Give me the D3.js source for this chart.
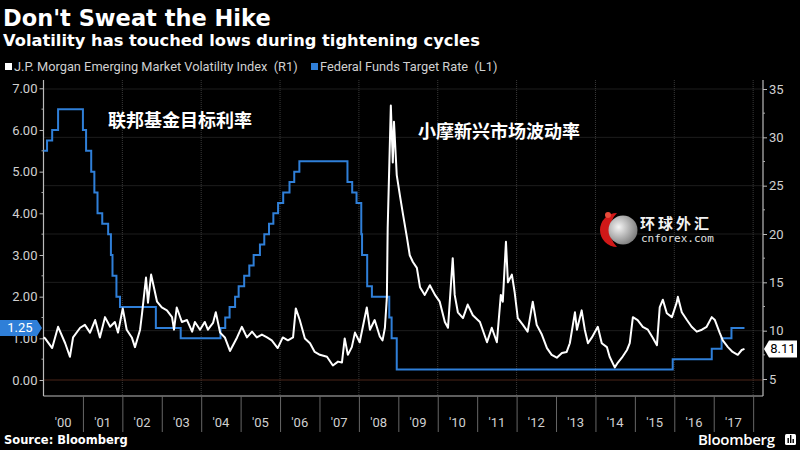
<!DOCTYPE html>
<html><head><meta charset="utf-8">
<script src="https://cdn.jsdelivr.net/npm/d3@7/dist/d3.min.js"></script>
<style>body{margin:0;background:#000}svg{display:block}</style>
</head><body><svg id="c" width="800" height="450"></svg>
<script>
// ---------- DATA ----------
const yearTicks = d3.range(2000, 2019);
const yearLabels = ["'00","'01","'02","'03","'04","'05","'06","'07","'08","'09","'10","'11","'12","'13","'14","'15","'16","'17"];
const leftTicks = [0,1,2,3,4,5,6,7];
const rightTicks = [5,10,15,20,25,30,35];

// Federal Funds Target Rate (L1) – change points (decimal year, rate)
const fedDates = [2000.0,2000.09,2000.22,2000.37,2001.0,2001.08,2001.21,2001.29,2001.37,2001.49,2001.64,2001.71,2001.75,2001.85,2001.94,
  2002.85,2003.48,2004.49,2004.61,2004.72,2004.86,2004.95,2005.09,2005.22,2005.33,2005.49,2005.60,2005.72,2005.83,2005.95,
  2006.08,2006.24,2006.36,2006.49,2007.71,2007.83,2007.94,2008.06,2008.08,2008.21,2008.33,2008.77,2008.83,2008.96,
  2015.96,2016.95,2017.20,2017.45,2017.78];
const fedRates = [5.5,5.75,6.0,6.5,6.0,5.5,5.0,4.5,4.0,3.75,3.5,3.0,2.5,2.0,1.75,
  1.25,1.0,1.25,1.5,1.75,2.0,2.25,2.5,2.75,3.0,3.25,3.5,3.75,4.0,4.25,
  4.5,4.75,5.0,5.25,4.75,4.5,4.25,3.5,3.0,2.25,2.0,1.5,1.0,0.25,
  0.5,0.75,1.0,1.25,1.25];

// J.P. Morgan EM Volatility Index (R1)
const vxyDates = [2000.0,2000.04,2000.22,2000.37,2000.55,2000.67,2000.75,2000.93,2001.05,2001.18,2001.31,2001.43,2001.56,2001.69,2001.81,2001.89,
  2002.01,2002.11,2002.24,2002.32,2002.45,2002.50,2002.60,2002.65,2002.73,2002.80,2002.88,2003.0,2003.13,2003.26,2003.31,2003.38,2003.51,2003.64,2003.77,2003.84,2003.97,
  2004.09,2004.17,2004.30,2004.37,2004.48,2004.60,2004.73,2004.91,2005.03,2005.16,2005.29,2005.41,2005.54,2005.67,2005.79,2005.94,
  2006.07,2006.20,2006.33,2006.40,2006.50,2006.63,2006.76,2006.88,2007.01,2007.19,2007.34,2007.47,2007.57,2007.64,2007.72,2007.82,2007.90,
  2008.02,2008.20,2008.28,2008.40,2008.53,2008.60,2008.66,2008.71,2008.73,2008.81,2008.86,2008.89,2008.96,
  2009.04,2009.12,2009.22,2009.29,2009.37,2009.47,2009.55,2009.67,2009.80,2009.93,2010.05,2010.18,2010.26,2010.38,2010.43,2010.51,2010.64,2010.76,2010.89,
  2011.07,2011.25,2011.37,2011.50,2011.60,2011.65,2011.73,2011.78,2011.88,2011.95,2012.03,2012.16,2012.28,2012.41,2012.51,2012.64,2012.77,2012.89,
  2013.02,2013.15,2013.27,2013.35,2013.48,2013.53,2013.65,2013.73,2013.81,2013.91,2013.98,2014.06,2014.16,2014.29,2014.36,2014.49,2014.57,2014.67,2014.80,2014.87,2014.95,
  2015.07,2015.20,2015.33,2015.45,2015.56,2015.63,2015.71,2015.81,2015.94,2016.06,2016.09,2016.19,2016.32,2016.44,2016.57,2016.70,2016.82,2016.95,
  2017.03,2017.15,2017.23,2017.36,2017.48,2017.61,2017.71,2017.78];
const vxyValues = [9.3,9.2,8.2,10.4,8.7,7.3,9.3,10.3,10.6,9.8,11.1,9.3,11.4,10.4,10.9,9.8,
  12.3,10.1,9.3,8.3,10.1,11.8,15.5,12.9,15.8,14.5,13.0,12.4,12.1,11.4,10.1,12.4,10.9,11.1,9.9,10.9,10.1,
  10.9,10.1,10.8,11.9,9.8,9.3,7.9,9.3,10.4,9.3,9.9,9.3,9.6,9.3,9.0,8.2,
  9.3,9.0,9.3,12.3,11.1,9.2,8.7,7.8,7.5,7.3,6.4,6.8,6.7,9.2,7.5,8.3,9.8,
  8.8,12.4,10.1,11.1,9.4,9.0,10.3,13.5,20.6,33.3,27.4,31.6,26.1,
  24.0,22.0,19.6,17.8,17.1,16.5,14.5,13.7,14.7,13.7,13.0,10.9,10.3,17.5,13.7,11.9,11.3,12.7,11.6,
  10.9,8.8,10.3,8.8,13.7,13.0,19.2,15.0,15.8,14.0,11.3,10.6,9.9,13.0,10.6,9.6,8.2,7.5,
  7.2,7.7,7.8,8.7,11.9,10.1,12.1,10.1,8.7,9.3,9.8,10.4,8.7,8.3,7.3,6.2,6.7,7.2,8.0,8.7,11.4,
  11.1,10.4,10.1,9.3,8.5,12.4,13.2,11.8,11.4,12.9,13.5,11.9,11.1,10.4,9.9,10.1,10.4,11.4,
  11.1,9.8,9.0,8.3,7.8,7.5,8.0,8.11];

// ---------- CHART ----------
const svg = d3.select("#c");
svg.append("rect").attr("width",800).attr("height",450).attr("fill","#000");

const plot = {left:43.5, right:763, top:80, bottom:396};
const x = d3.scaleLinear().domain([2000, 2018.25]).range([plot.left, plot.right]);
const yL = d3.scaleLinear().domain([0, 7]).range([380, 88.3]);
const yR = d3.scaleLinear().domain([5, 35]).range([379, 89]);

const tickFont = "Roboto, 'Liberation Sans', sans-serif";

// gridlines
const grid = svg.append("g");
grid.selectAll("line.h").data(rightTicks.slice(1)).join("line")
  .attr("x1", plot.left).attr("x2", plot.right)
  .attr("y1", d=>yR(d)).attr("y2", d=>yR(d))
  .attr("stroke","#3a3a3a").attr("stroke-width",1).attr("stroke-dasharray","1,1");
grid.selectAll("line.v").data(yearTicks.filter(d=>d%2===0 && d>2000)).join("line")
  .attr("x1", d=>x(d)).attr("x2", d=>x(d))
  .attr("y1", plot.top).attr("y2", plot.bottom)
  .attr("stroke","#3a3a3a").attr("stroke-width",1).attr("stroke-dasharray","1,1");
// zero line (left axis)
svg.append("line").attr("x1",plot.left).attr("x2",plot.right)
  .attr("y1",yL(0)).attr("y2",yL(0)).attr("stroke","#4a2418").attr("stroke-width",1.2);

// left axis
const leftAxis = d3.axisLeft(yL).tickValues(leftTicks).tickFormat(d3.format(".2f")).tickSize(4).tickPadding(2);
const gL = svg.append("g").attr("transform",`translate(${plot.left},0)`).call(leftAxis);
gL.select(".domain").attr("d",`M0,${plot.top}V${plot.bottom}`);
gL.selectAll("line.minor").data(d3.range(0.5,7,1)).join("line").attr("class","minor")
  .attr("x1",-2).attr("x2",0).attr("y1",d=>yL(d)).attr("y2",d=>yL(d)).attr("stroke","#aaa");

// right axis
const rightAxis = d3.axisRight(yR).tickValues(rightTicks).tickSize(4).tickPadding(2);
const gR = svg.append("g").attr("transform",`translate(${plot.right},0)`).call(rightAxis);
gR.select(".domain").attr("d",`M0,${plot.top}V${plot.bottom}`);
gR.selectAll("line.minor").data(d3.range(7.5,35,5)).join("line").attr("class","minor")
  .attr("x1",0).attr("x2",2).attr("y1",d=>yR(d)).attr("y2",d=>yR(d)).attr("stroke","#aaa");

[gL,gR].forEach(g=>{
  g.select(".domain").attr("stroke","#bbb").attr("stroke-width",1.2);
  g.selectAll(".tick line").attr("stroke","#bbb");
  g.selectAll(".tick text").attr("fill","#d0d0d0").attr("font-family",tickFont).attr("font-size",13);
});

// bottom axis
svg.append("line").attr("x1",plot.left).attr("x2",plot.right).attr("y1",plot.bottom).attr("y2",plot.bottom)
  .attr("stroke","#bbb").attr("stroke-width",1.2);
const xAxis = d3.axisBottom(x).tickValues(yearTicks.slice(1)).tickFormat("").tickSize(36);
const gX = svg.append("g").attr("transform",`translate(0,${plot.bottom})`).call(xAxis);
gX.select(".domain").remove();
gX.selectAll(".tick line").attr("stroke","#666");
svg.append("g").selectAll("text").data(yearLabels).join("text")
  .attr("x",(d,i)=>x(2000+i+0.5)).attr("y",427)
  .attr("text-anchor","middle").attr("fill","#d0d0d0")
  .attr("font-family",tickFont).attr("font-size",13).text(d=>d);

// series
const fedData = fedDates.map((d,i)=>[d,fedRates[i]]);
const vxyData = vxyDates.map((d,i)=>[d,vxyValues[i]]);
svg.append("path").datum(fedData)
  .attr("d", d3.line().x(d=>x(d[0])).y(d=>yL(d[1])).curve(d3.curveStepAfter))
  .attr("fill","none").attr("stroke","#2f7fd8").attr("stroke-width",2);
svg.append("path").datum(vxyData)
  .attr("d", d3.line().x(d=>x(d[0])).y(d=>yR(d[1])))
  .attr("fill","none").attr("stroke","#fff").attr("stroke-width",2).attr("stroke-linejoin","round");

// value tags
const fedLast = fedRates[fedRates.length-1];
const yf = yL(fedLast);
svg.append("path").attr("d",`M0,${yf-8}H37L42,${yf}L37,${yf+8}H0Z`).attr("fill","#2f7fd8");
svg.append("text").attr("x",20).attr("y",yf+4.5).attr("text-anchor","middle").attr("fill","#fff")
  .attr("font-family",tickFont).attr("font-size",13).text(d3.format(".2f")(fedLast));
const vLast = vxyValues[vxyValues.length-1];
const yv = yR(vLast);
svg.append("path").attr("d",`M764,${yv}L769,${yv-8.5}H797V${yv+8.5}H769Z`).attr("fill","#fff");
svg.append("text").attr("x",783).attr("y",yv+4.5).attr("text-anchor","middle").attr("fill","#000")
  .attr("font-family",tickFont).attr("font-size",13).text(d3.format(".2f")(vLast));

// Chinese annotations
const cjk = "'Noto Sans CJK SC', sans-serif";
svg.append("text").attr("x",108).attr("y",127).attr("fill","#fff").attr("font-family",cjk)
  .attr("font-weight","bold").attr("font-size",18).text("联邦基金目标利率");
svg.append("text").attr("x",418).attr("y",138).attr("fill","#fff").attr("font-family",cjk)
  .attr("font-weight","bold").attr("font-size",18).text("小摩新兴市场波动率");

// watermark
const defs = svg.append("defs");
const rg = defs.append("radialGradient").attr("id","wg").attr("cx","35%").attr("cy","40%").attr("r","70%");
rg.append("stop").attr("offset","0%").attr("stop-color","#f4f4f4");
rg.append("stop").attr("offset","100%").attr("stop-color","#777");
svg.append("path").attr("d","M617,213 A17,17 0 0,0 617,247 A24,24 0 0,1 617,213Z").attr("fill","#d01818");
svg.append("circle").attr("cx",623).attr("cy",230).attr("r",14.5).attr("fill","url(#wg)");
svg.append("circle").attr("cx",608).attr("cy",215).attr("r",3).attr("fill","#e84a3a");
svg.append("text").attr("x",640).attr("y",229).attr("fill","#f2f2f2").attr("font-family",cjk)
  .attr("font-weight","bold").attr("font-size",15).attr("letter-spacing",3).text("环球外汇");
svg.append("text").attr("x",641).attr("y",242).attr("fill","#e0e0e0").attr("font-family","'DejaVu Sans Mono', monospace")
  .attr("font-size",11).text("cnforex.com");

// titles
const titleFont = "'DejaVu Sans', Verdana, sans-serif";
svg.append("text").attr("x",3).attr("y",26).attr("fill","#fff").attr("font-family",titleFont)
  .attr("font-weight","bold").attr("font-size",22.5).text("Don't Sweat the Hike");
svg.append("text").attr("x",3).attr("y",46).attr("fill","#fff").attr("font-family",titleFont)
  .attr("font-weight","bold").attr("font-size",16.3).text("Volatility has touched lows during tightening cycles");

// legend
svg.append("rect").attr("x",5).attr("y",63).attr("width",7).attr("height",7).attr("fill","#fff");
svg.append("text").attr("x",14).attr("y",71).attr("fill","#d0d0d0").attr("font-family",tickFont)
  .attr("font-size",12.8).attr("xml:space","preserve").text("J.P. Morgan Emerging Market Volatility Index  (R1)");
svg.append("rect").attr("x",311).attr("y",63).attr("width",7).attr("height",7).attr("fill","#2f7fd8");
svg.append("text").attr("x",320).attr("y",71).attr("fill","#d0d0d0").attr("font-family",tickFont)
  .attr("font-size",12.8).attr("xml:space","preserve").text("Federal Funds Target Rate  (L1)");

// footer
svg.append("text").attr("x",4).attr("y",444).attr("fill","#fff").attr("font-family",titleFont)
  .attr("font-weight","bold").attr("font-size",11.5).text("Source: Bloomberg");
svg.append("text").attr("x",698).attr("y",445).attr("fill","#fff").attr("font-family","'Open Sans', Roboto, sans-serif")
  .attr("font-weight",600).attr("font-size",15).attr("letter-spacing",-0.3).text("Bloomberg");
svg.append("rect").attr("x",785).attr("y",434).attr("width",11).attr("height",11).attr("rx",1.5).attr("fill","#fff");
svg.selectAll("rect.bar").data([[787.5,5],[790,8],[792.5,4]]).join("rect").attr("class","bar")
  .attr("x",d=>d[0]).attr("y",d=>443-d[1]).attr("width",1.4).attr("height",d=>d[1]).attr("fill","#000");
</script></body></html>
